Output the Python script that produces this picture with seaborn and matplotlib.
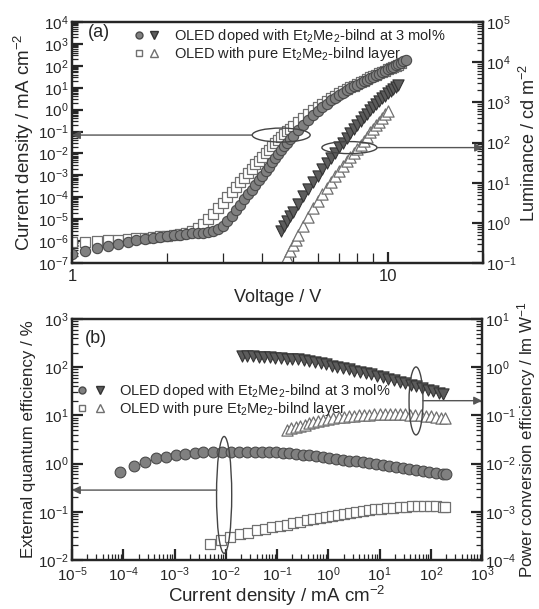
import numpy as np
import matplotlib
matplotlib.use('Agg')
import matplotlib.pyplot as plt
from matplotlib.patches import Ellipse
from matplotlib.lines import Line2D
from matplotlib.legend_handler import HandlerTuple
from matplotlib.ticker import LogLocator, NullFormatter, LogFormatterSciNotation
import seaborn as sns

# ---- (a) J-V-L data (current density and luminance stored as log10 values) ----
volt_doped = [1.0, 1.1, 1.2, 1.3, 1.4, 1.5, 1.6, 1.7, 1.8, 1.9, 2.0, 2.1, 2.2, 2.3, 2.4, 2.5,
              2.6, 2.7, 2.8, 2.9, 3.0, 3.1, 3.2, 3.3, 3.4, 3.5, 3.6, 3.7, 3.8, 3.9, 4.0, 4.1,
              4.2, 4.3, 4.4, 4.5, 4.6, 4.7, 4.8, 4.9, 5.0, 5.2, 5.4, 5.6, 5.8, 6.0, 6.2, 6.4,
              6.6, 6.8, 7.0, 7.2, 7.4, 7.6, 7.8, 8.0, 8.2, 8.4, 8.6, 8.8, 9.0, 9.2, 9.4, 9.6,
              9.8, 10.0, 10.2, 10.4, 10.6, 10.8, 11.0, 11.2, 11.4]
logj_doped = [-6.6, -6.45, -6.3, -6.2, -6.13, -6.05, -5.97, -5.9, -5.85, -5.8, -5.76, -5.73,
              -5.7, -5.67, -5.65, -5.63, -5.61, -5.58, -5.53, -5.45, -5.32, -5.1, -4.86, -4.6,
              -4.35, -4.1, -3.87, -3.65, -3.43, -3.22, -3.01, -2.8, -2.6, -2.4, -2.2, -2.01,
              -1.83, -1.66, -1.5, -1.35, -1.2, -0.93, -0.68, -0.45, -0.24, -0.05, 0.12, 0.28,
              0.42, 0.55, 0.67, 0.78, 0.88, 0.97, 1.06, 1.14, 1.22, 1.3, 1.37, 1.44, 1.51,
              1.58, 1.65, 1.72, 1.78, 1.84, 1.9, 1.96, 2.02, 2.08, 2.14, 2.2, 2.26]

volt_pure = [1.0, 1.1, 1.2, 1.3, 1.4, 1.5, 1.6, 1.7, 1.8, 1.9, 2.0, 2.1, 2.2, 2.3, 2.4, 2.5,
             2.6, 2.7, 2.8, 2.9, 3.0, 3.1, 3.2, 3.3, 3.4, 3.5, 3.6, 3.7, 3.8, 3.9, 4.0, 4.1,
             4.2, 4.3, 4.4, 4.5, 4.6, 4.7, 4.8, 4.9, 5.0, 5.2, 5.4, 5.6, 5.8, 6.0, 6.2, 6.4,
             6.6, 6.8, 7.0, 7.2, 7.4, 7.6, 7.8, 8.0, 8.2, 8.4, 8.6, 8.8, 9.0, 9.2, 9.4, 9.6,
             9.8, 10.0, 10.2, 10.4, 10.6, 10.8, 11.0]
logj_pure = [-6.05, -6.02, -6.0, -5.97, -5.94, -5.9, -5.87, -5.84, -5.81, -5.78, -5.75, -5.72,
             -5.69, -5.64, -5.55, -5.42, -5.22, -4.98, -4.75, -4.5, -4.25, -4.0, -3.77, -3.54,
             -3.32, -3.1, -2.9, -2.7, -2.5, -2.32, -2.15, -1.98, -1.82, -1.67, -1.52, -1.38,
             -1.24, -1.11, -0.99, -0.87, -0.76, -0.55, -0.36, -0.18, -0.02, 0.13, 0.27, 0.4,
             0.52, 0.63, 0.74, 0.84, 0.93, 1.02, 1.1, 1.18, 1.26, 1.33, 1.4, 1.47, 1.54, 1.6,
             1.66, 1.72, 1.78, 1.84, 1.9, 1.96, 2.01, 2.06, 2.11]

volt_lum_doped = [4.6, 4.7, 4.8, 4.9, 5.0, 5.2, 5.4, 5.6, 5.8, 6.0, 6.2, 6.4, 6.6, 6.8, 7.0,
                  7.2, 7.4, 7.6, 7.8, 8.0, 8.2, 8.4, 8.6, 8.8, 9.0, 9.2, 9.4, 9.6, 9.8, 10.0,
                  10.2, 10.4, 10.6, 10.8]
logl_doped = [-0.2, -0.08, 0.04, 0.16, 0.27, 0.48, 0.66, 0.84, 1.01, 1.17, 1.33, 1.48, 1.62,
              1.75, 1.88, 2.0, 2.12, 2.23, 2.34, 2.44, 2.54, 2.63, 2.72, 2.8, 2.88, 2.96, 3.03,
              3.1, 3.17, 3.23, 3.29, 3.34, 3.39, 3.44]

volt_lum_pure = [4.8, 4.9, 5.0, 5.1, 5.2, 5.4, 5.6, 5.8, 6.0, 6.2, 6.4, 6.6, 6.8, 7.0, 7.2,
                 7.4, 7.6, 7.8, 8.0, 8.2, 8.4, 8.6, 8.8, 9.0, 9.2, 9.4, 9.6, 9.8, 10.0]
logl_pure = [-0.86, -0.7, -0.56, -0.43, -0.31, -0.08, 0.15, 0.36, 0.55, 0.72, 0.87, 1.02,
             1.16, 1.29, 1.42, 1.53, 1.64, 1.75, 1.85, 1.95, 2.05, 2.15, 2.25, 2.34, 2.43,
             2.52, 2.61, 2.7, 2.78]

# ---- (b) efficiencies vs current density (all log10) ----
eqe_doped_logj = [-4.06, -3.79, -3.58, -3.36, -3.17, -2.97, -2.8, -2.6, -2.44, -2.25, -2.07,
                  -1.9, -1.74, -1.58, -1.43, -1.29, -1.15, -1.02, -0.89, -0.76, -0.63, -0.5,
                  -0.37, -0.24, -0.11, 0.02, 0.15, 0.28, 0.41, 0.54, 0.67, 0.8, 0.93, 1.06,
                  1.19, 1.32, 1.45, 1.58, 1.71, 1.84, 1.97, 2.1, 2.23, 2.3]
eqe_doped = [-0.17, -0.04, 0.04, 0.11, 0.14, 0.17, 0.19, 0.21, 0.23, 0.23, 0.24, 0.25, 0.25,
             0.25, 0.25, 0.25, 0.24, 0.23, 0.22, 0.21, 0.2, 0.18, 0.17, 0.15, 0.14, 0.12, 0.1,
             0.08, 0.06, 0.05, 0.03, 0.01, -0.01, -0.03, -0.05, -0.07, -0.09, -0.11, -0.13,
             -0.15, -0.17, -0.19, -0.21, -0.22]

eqe_pure_logj = [-2.31, -2.1, -1.92, -1.72, -1.56, -1.4, -1.24, -1.09, -0.95, -0.81, -0.68,
                 -0.55, -0.42, -0.29, -0.17, -0.05, 0.07, 0.19, 0.31, 0.43, 0.55, 0.67, 0.79,
                 0.91, 1.03, 1.15, 1.27, 1.39, 1.51, 1.63, 1.75, 1.87, 1.99, 2.11, 2.23, 2.28]
eqe_pure = [-1.67, -1.59, -1.52, -1.47, -1.43, -1.38, -1.35, -1.32, -1.29, -1.27, -1.24, -1.21,
            -1.18, -1.15, -1.13, -1.11, -1.09, -1.06, -1.04, -1.02, -1.0, -0.99, -0.97, -0.95,
            -0.94, -0.93, -0.92, -0.91, -0.9, -0.89, -0.89, -0.89, -0.89, -0.89, -0.9, -0.9]

pe_doped_logj = [-1.69, -1.58, -1.47, -1.36, -1.25, -1.14, -1.03, -0.92, -0.81, -0.7, -0.59,
                 -0.48, -0.37, -0.26, -0.15, -0.04, 0.07, 0.18, 0.29, 0.4, 0.51, 0.62, 0.73,
                 0.84, 0.95, 1.06, 1.17, 1.28, 1.39, 1.5, 1.61, 1.72, 1.83, 1.94, 2.05, 2.16, 2.24]
pe_doped = [0.23, 0.23, 0.23, 0.22, 0.22, 0.21, 0.2, 0.19, 0.18, 0.17, 0.16, 0.14, 0.12, 0.1,
            0.08, 0.06, 0.03, 0.01, -0.02, -0.04, -0.07, -0.09, -0.12, -0.15, -0.18, -0.21,
            -0.24, -0.27, -0.3, -0.33, -0.37, -0.4, -0.44, -0.47, -0.5, -0.53, -0.55]

pe_pure_logj = [-0.81, -0.72, -0.63, -0.55, -0.46, -0.37, -0.29, -0.2, -0.1, 0.0, 0.1, 0.2, 0.3,
                0.4, 0.5, 0.6, 0.7, 0.8, 0.9, 1.0, 1.1, 1.2, 1.3, 1.4, 1.5, 1.6, 1.7, 1.8, 1.9,
                2.0, 2.1, 2.2, 2.28]
pe_pure = [-1.3, -1.27, -1.24, -1.22, -1.19, -1.16, -1.13, -1.11, -1.09, -1.07, -1.05, -1.04,
           -1.03, -1.02, -1.01, -1.0, -0.99, -0.99, -0.98, -0.98, -0.98, -0.98, -0.98, -0.98,
           -0.98, -0.99, -0.99, -1.0, -1.01, -1.02, -1.03, -1.05, -1.06]

legend_labels = ['OLED doped with Et$_\\mathregular{2}$Me$_\\mathregular{2}$-bilnd at 3 mol%',
                 'OLED with pure Et$_\\mathregular{2}$Me$_\\mathregular{2}$-bilnd layer']

sns.set_theme(style='ticks')
plt.rcParams['font.family'] = ['Liberation Sans', 'DejaVu Sans']
plt.rcParams['mathtext.fontset'] = 'custom'
plt.rcParams['mathtext.rm'] = 'Liberation Sans'
plt.rcParams['mathtext.it'] = 'Liberation Sans:italic'
plt.rcParams['mathtext.bf'] = 'Liberation Sans:bold'

C_FACE, C_EDGE = '#808080', '#4a4a4a'
T_FACE, T_EDGE = '#5c5c5c', '#333333'
O_EDGE = '#707070'
ARROW_C = '#555555'


def p10(a):
    return np.power(10.0, np.asarray(a, dtype=float))


def style_axis(a, which='y'):
    a.tick_params(axis=which, which='major', direction='in', length=8, width=1.6,
                  labelsize=11, pad=2.5)
    a.tick_params(axis=which, which='minor', direction='in', length=4, width=0.9)


def log_axis(axis, numticks=20):
    axis.set_major_locator(LogLocator(base=10, numticks=numticks))
    axis.set_minor_locator(LogLocator(base=10, subs=np.arange(2, 10), numticks=numticks))
    axis.set_major_formatter(LogFormatterSciNotation())
    axis.set_minor_formatter(NullFormatter())


def add_legend(a, x, y, gap):
    h1 = (Line2D([], [], ls='', marker='o', ms=5, mfc=C_FACE, mec=C_EDGE),
          Line2D([], [], ls='', marker='v', ms=6, mfc=T_FACE, mec=T_EDGE))
    h2 = (Line2D([], [], ls='', marker='s', ms=4.5, mfc='white', mec=O_EDGE),
          Line2D([], [], ls='', marker='^', ms=6, mfc='white', mec=O_EDGE))
    a.legend([h1, h2], legend_labels, handler_map={tuple: HandlerTuple(ndivide=None, pad=gap)},
             loc='upper left', bbox_to_anchor=(x, y), frameon=False, fontsize=10.5,
             handlelength=1.6, handletextpad=1.1, labelspacing=0.0, borderaxespad=0,
             borderpad=0)


def circle_note(a, cx, cy, w, h, x0, y0, x1, y1):
    a.add_patch(Ellipse((cx, cy), w, h, transform=a.transAxes, fill=False,
                        ec='#444444', lw=1.0, zorder=5))
    a.annotate('', xy=(x1, y1), xytext=(x0, y0), xycoords='axes fraction',
               textcoords='axes fraction',
               arrowprops=dict(arrowstyle='-|>', color=ARROW_C, lw=1.0,
                               mutation_scale=12, shrinkA=0, shrinkB=0), zorder=5)


fig = plt.figure(figsize=(5.39, 6.09), dpi=100)
ax1 = fig.add_axes([0.1336, 0.5681, 0.7625, 0.3957])
ax2 = fig.add_axes([0.1336, 0.0805, 0.7607, 0.3957])

# ---------------- panel (a) ----------------
sns.scatterplot(x=volt_doped, y=p10(logj_doped), marker='o', s=55, color=C_FACE,
                edgecolor=C_EDGE, linewidth=0.8, ax=ax1, legend=False, zorder=3)
sns.scatterplot(x=volt_pure, y=p10(logj_pure), marker='s', s=45, color='white',
                edgecolor=O_EDGE, linewidth=0.9, ax=ax1, legend=False, zorder=2)
ax1.set_xscale('log')
ax1.set_yscale('log')
ax1.set_xlim(1, 20)
ax1.set_ylim(1e-7, 1e4)
log_axis(ax1.yaxis, 15)
ax1.xaxis.set_minor_locator(LogLocator(base=10, subs=np.arange(2, 10), numticks=10))
ax1.set_xticks([1, 10])
ax1.set_xticklabels(['1', '10'])
ax1.xaxis.set_minor_formatter(NullFormatter())
style_axis(ax1, 'y')
style_axis(ax1, 'x')
ax1.tick_params(axis='x', which='minor', length=7)
ax1.tick_params(axis='x', which='major', labelsize=12, pad=4)
ax1.set_xlabel('Voltage / V', fontsize=13, labelpad=4)
ax1.set_ylabel('Current density / mA cm$^{\\mathregular{-2}}$', fontsize=13.5, labelpad=1)

ax1r = ax1.twinx()
sns.scatterplot(x=volt_lum_doped, y=p10(logl_doped), marker='v', s=65, color=T_FACE,
                edgecolor=T_EDGE, linewidth=0.8, ax=ax1r, legend=False, zorder=3)
sns.scatterplot(x=volt_lum_pure, y=p10(logl_pure), marker='^', s=65, color='white',
                edgecolor=O_EDGE, linewidth=0.9, ax=ax1r, legend=False, zorder=2)
ax1r.set_yscale('log')
ax1r.set_ylim(1e-1, 1e5)
log_axis(ax1r.yaxis, 10)
style_axis(ax1r, 'y')
ax1r.set_ylabel('Luminance / cd m$^{\\mathregular{-2}}$', fontsize=13, labelpad=1)

for a in (ax1, ax1r):
    for sp in a.spines.values():
        sp.set_linewidth(1.6)

ax1r.text(0.038, 0.958, '(a)', transform=ax1r.transAxes, fontsize=13, va='center', ha='left')
add_legend(ax1r, 0.152, 0.978, 0.45)
circle_note(ax1r, 0.509, 0.531, 0.141, 0.058, 0.438, 0.531, 0.0, 0.531)
circle_note(ax1r, 0.675, 0.479, 0.134, 0.05, 0.742, 0.479, 1.0, 0.479)

# ---------------- panel (b) ----------------
sns.scatterplot(x=p10(eqe_doped_logj), y=p10(eqe_doped), marker='o', s=60, color=C_FACE,
                edgecolor=C_EDGE, linewidth=0.8, ax=ax2, legend=False, zorder=3)
sns.scatterplot(x=p10(eqe_pure_logj), y=p10(eqe_pure), marker='s', s=48, color='white',
                edgecolor=O_EDGE, linewidth=0.9, ax=ax2, legend=False, zorder=2)
ax2.set_xscale('log')
ax2.set_yscale('log')
ax2.set_xlim(1e-5, 1e3)
ax2.set_ylim(1e-2, 1e3)
log_axis(ax2.xaxis, 15)
log_axis(ax2.yaxis, 10)
style_axis(ax2, 'y')
style_axis(ax2, 'x')
ax2.tick_params(axis='x', which='major', pad=4)
ax2.set_xlabel('Current density / mA cm$^{\\mathregular{-2}}$', fontsize=13.5, labelpad=0)
ax2.set_ylabel('External quantum efficiency / %', fontsize=12.2, labelpad=1)

ax2r = ax2.twinx()
sns.scatterplot(x=p10(pe_doped_logj), y=p10(pe_doped), marker='v', s=65, color=T_FACE,
                edgecolor=T_EDGE, linewidth=0.8, ax=ax2r, legend=False, zorder=3)
sns.scatterplot(x=p10(pe_pure_logj), y=p10(pe_pure), marker='^', s=65, color='white',
                edgecolor=O_EDGE, linewidth=0.9, ax=ax2r, legend=False, zorder=2)
ax2r.set_yscale('log')
ax2r.set_ylim(1e-4, 1e1)
log_axis(ax2r.yaxis, 10)
style_axis(ax2r, 'y')
ax2r.set_ylabel('Power conversion efficiency / lm W$^{\\mathregular{-1}}$', fontsize=12.2,
                labelpad=-1)

for a in (ax2, ax2r):
    for sp in a.spines.values():
        sp.set_linewidth(1.6)

ax2r.text(0.032, 0.92, '(b)', transform=ax2r.transAxes, fontsize=13, va='center', ha='left')
add_legend(ax2r, 0.018, 0.74, 0.9)
circle_note(ax2r, 0.371, 0.270, 0.037, 0.485, 0.353, 0.290, 0.0, 0.290)
circle_note(ax2r, 0.839, 0.660, 0.034, 0.282, 0.856, 0.661, 1.0, 0.661)

fig.savefig('out.png', dpi=100)
